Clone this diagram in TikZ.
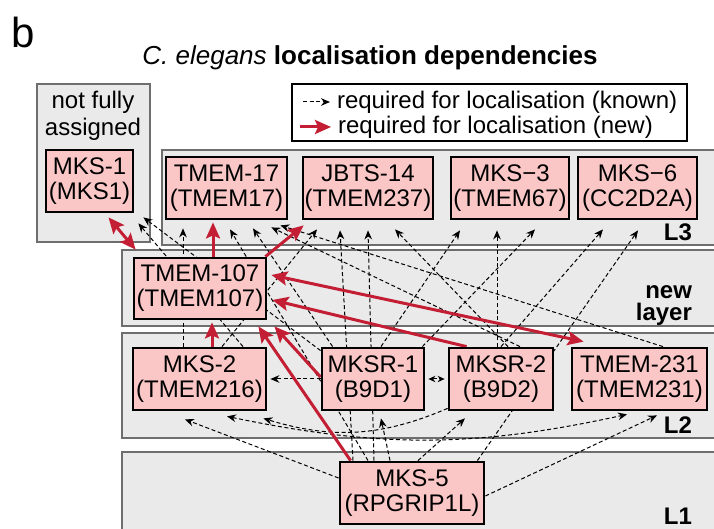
\documentclass[tikz,border=0pt]{standalone}
\usepackage{fontspec}
\setmainfont{Liberation Sans}
\usetikzlibrary{arrows.meta,calc}
\definecolor{newred}{RGB}{196,30,52}
\definecolor{genepink}{RGB}{250,198,198}
\definecolor{panelfill}{RGB}{234,234,234}
\definecolor{panelline}{RGB}{110,110,110}
\pgfdeclarelayer{panels}
\pgfdeclarelayer{edges}
\pgfsetlayers{panels,edges,main}
\tikzset{
  gene/.style={draw=black, line width=1.4pt, fill=genepink, align=center, inner sep=0pt,
    minimum height=31pt, font=\fontsize{12}{12.5}\selectfont},
  layerbox/.style={draw=panelline, fill=panelfill, line width=0.6pt},
  layerlbl/.style={anchor=east, align=right, font=\fontsize{12}{11}\selectfont\bfseries},
  known/.style={dash pattern=on 2pt off 1.3pt, line width=0.5pt, >={Stealth[length=4.5pt,width=3.8pt]}},
  newdep/.style={draw=newred, line width=1.5pt, >={Stealth[length=8pt,width=7pt,inset=1.5pt]}},
}

\begin{document}
\begin{tikzpicture}[x=0.5pt, y=-0.5pt]
    \useasboundingbox (0,0) rectangle (714,529);

    % panel letter and title
    \node[font=\fontsize{21}{21}\selectfont] (panelb) at (23,32) {b};
    \node[font=\fontsize{13}{13}\selectfont] (title) at (370,58) {\textit{C. elegans} \textbf{localisation dependencies}};

    % legend
    \draw[line width=0.7pt, fill=white] (292,84) rectangle (687,141);
    \coordinate (kstart) at (303,102);
    \node[anchor=west, font=\fontsize{12}{12}\selectfont] (kleg) at (330,102) {required for localisation (known)};
    \coordinate (nstart) at (300,127);
    \node[anchor=west, font=\fontsize{12}{12}\selectfont] (nleg) at (331,127) {required for localisation (new)};
    \draw[known, ->] (kstart) -- (kleg.west);
    \draw[newdep, ->] (nstart) -- (nleg.west);

    % the layers
    \begin{pgfonlayer}{panels}
        \draw[layerbox] (37,84) rectangle (150,242);
        \draw[layerbox] (162,150) rectangle (717,245);
        \draw[layerbox] (122,250) rectangle (717,326);
        \draw[layerbox] (122,333) rectangle (717,438);
        \draw[layerbox] (122,452) rectangle (717,532);
    \end{pgfonlayer}
    \node[align=center, font=\fontsize{12}{13.5}\selectfont] (notfully) at (93,116) {not fully\\assigned};
    \node[layerlbl] (lthree) at (699,232) {L3};
    \node[layerlbl] (lnew) at (699,306) {new\\layer};
    \node[layerlbl] (ltwo) at (699,425) {L2};
    \node[layerlbl] (lone) at (699,516) {L1};

    % proteins
    \node[gene, minimum width=43.5pt] (mks1) at (89.5,181) {MKS-1\\(MKS1)};
    \node[gene, minimum width=60.5pt] (tmem17) at (226.5,188) {TMEM-17\\(TMEM17)};
    \node[gene, minimum width=65pt] (jbts14) at (368,188) {JBTS-14\\(TMEM237)};
    \node[gene, minimum width=59pt] (mks3) at (510,188) {MKS−3\\(TMEM67)};
    \node[gene, minimum width=59.5pt] (mks6) at (637.5,188) {MKS−6\\(CC2D2A)};
    \node[gene, minimum width=66pt, minimum height=30.5pt] (tmem107) at (200,288.5) {TMEM-107\\(TMEM107)};
    \node[gene, minimum width=66.5pt] (mks2) at (199.5,379) {MKS-2\\(TMEM216)};
    \node[gene, minimum width=51pt] (mksr1) at (373,379) {MKSR-1\\(B9D1)};
    \node[gene, minimum width=52pt] (mksr2) at (501,379) {MKSR-2\\(B9D2)};
    \node[gene, minimum width=67.5pt] (tmem231) at (639.5,379) {TMEM-231\\(TMEM231)};
    \node[gene, minimum width=72pt] (mks5) at (412,493) {MKS-5\\(RPGRIP1L)};

    \begin{pgfonlayer}{edges}
        % known: up to L3 and MKS-1
        \draw[known, ->] ($(mksr1.north west)+(0,4)$) -- ($(mks1.south east)+(9,4)$);
        \draw[known, ->] ($(mks2.north)+(43.5,0)$) -- ($(mks1.south east)+(4,10)$);
        \draw[known, ->] ($(mks2.north)+(-16.5,0)$) -- ($(tmem17.south)+(-43.5,8)$);
        \draw[known, ->] ($(mks5.north)+(-44,0)$) -- ($(tmem17.south)+(3.5,9)$);
        \draw[known, ->] ($(mksr1.north west)+(12,0)$) -- ($(tmem17.south)+(26.5,8)$);
        \draw[known, ->] ($(mksr2.north)+(19,0)$) -- ($(tmem17.south east)+(-17,7)$);
        \draw[known, ->] ($(tmem231.north)+(23.5,0)$) -- ($(tmem17.south east)+(-8,5)$);
        \draw[known, ->] ($(mks2.north)+(22.5,0)$) -- ($(jbts14.south)+(-51,9)$);
        \draw[known, ->] ($(mks5.north)+(-59,0)$) -- ($(jbts14.south)+(-28,10)$);
        \draw[known, ->] ($(mks5.north)+(-38,0)$) -- ($(jbts14.south)+(0,10)$);
        \draw[known, ->] ($(mksr2.north)+(7,0)$) -- ($(jbts14.south)+(27,9)$);
        \draw[known, ->] ($(mksr1.north)+(8,0)$) -- ($(mks3.south)+(-50,10)$);
        \draw[known, ->] ($(mksr2.north)+(-4,0)$) -- ($(mks3.south)+(-13,10)$);
        \draw[known, ->] ($(mksr1.north east)+(-3,0)$) -- ($(mks3.south)+(25,9)$);
        \draw[known, ->] (mksr2.north) -- ($(mks6.south)+(-34.5,9)$);
        \draw[known, ->] ($(mks5.north east)+(-8,0)$) -- ($(mks6.south)+(0.5,10)$);

        % known: within L2 and from L1
        \draw[known, ->] (mksr1.west) -- ($(mks2.east)+(3,0)$);
        \draw[known, <->, >={Stealth[length=3.5pt,width=3.2pt]}] ($(mksr1.east)+(3,0)$) -- ($(mksr2.west)+(-3,0)$);
        \draw[known, ->] ($(mks5.west)+(0,-15)$) -- ($(mks2.south)+(-14.5,8)$);
        \draw[known, ->] ($(mksr2.south west)+(0,-3)$) to[bend left=20] ($(mks2.south east)+(-4,7)$);
        \draw[known, <->] ($(mks2.south)+(27.5,5)$) to[bend right=12] ($(tmem231.south)+(-12.5,3)$);
        \draw[known, ->] ($(mks5.north)+(-22,0)$) -- ($(mksr1.south)+(8,7)$);
        \draw[known, ->] ($(mks5.north)+(6,0)$) -- ($(mksr2.south)+(-36,7)$);
        \draw[known, ->] ($(mks5.east)+(0,3)$) -- ($(tmem231.south)+(17.5,4)$);

        % new dependencies through TMEM-107
        \draw[newdep, <->] ($(tmem107.north west)+(3,-7)$) -- ($(mks1.south)+(19,4)$);
        \draw[newdep, ->] ($(tmem107.north)+(13,0)$) -- ($(tmem17.south)+(-13.5,2)$);
        \draw[newdep, ->] ($(tmem107.north east)+(-2,0)$) -- ($(jbts14.south west)+(2,5)$);
        \draw[newdep, ->] ($(mks2.north)+(12.5,0)$) -- ($(tmem107.south)+(12,2)$);
        \draw[newdep, ->] ($(mksr1.west)+(0,-2)$) -- ($(tmem107.south east)+(7,6)$);
        \draw[newdep, ->] ($(mks5.north west)+(12,0)$) -- ($(tmem107.south east)+(-9,6)$);
        \draw[newdep, ->] ($(mksr2.north west)+(19,0)$) -- ($(tmem107.east)+(5,11.5)$);
        \draw[newdep, <->] ($(tmem107.east)+(4,-13.5)$) -- ($(tmem231.north west)+(13,-5)$);
    \end{pgfonlayer}
\end{tikzpicture}
\end{document}
